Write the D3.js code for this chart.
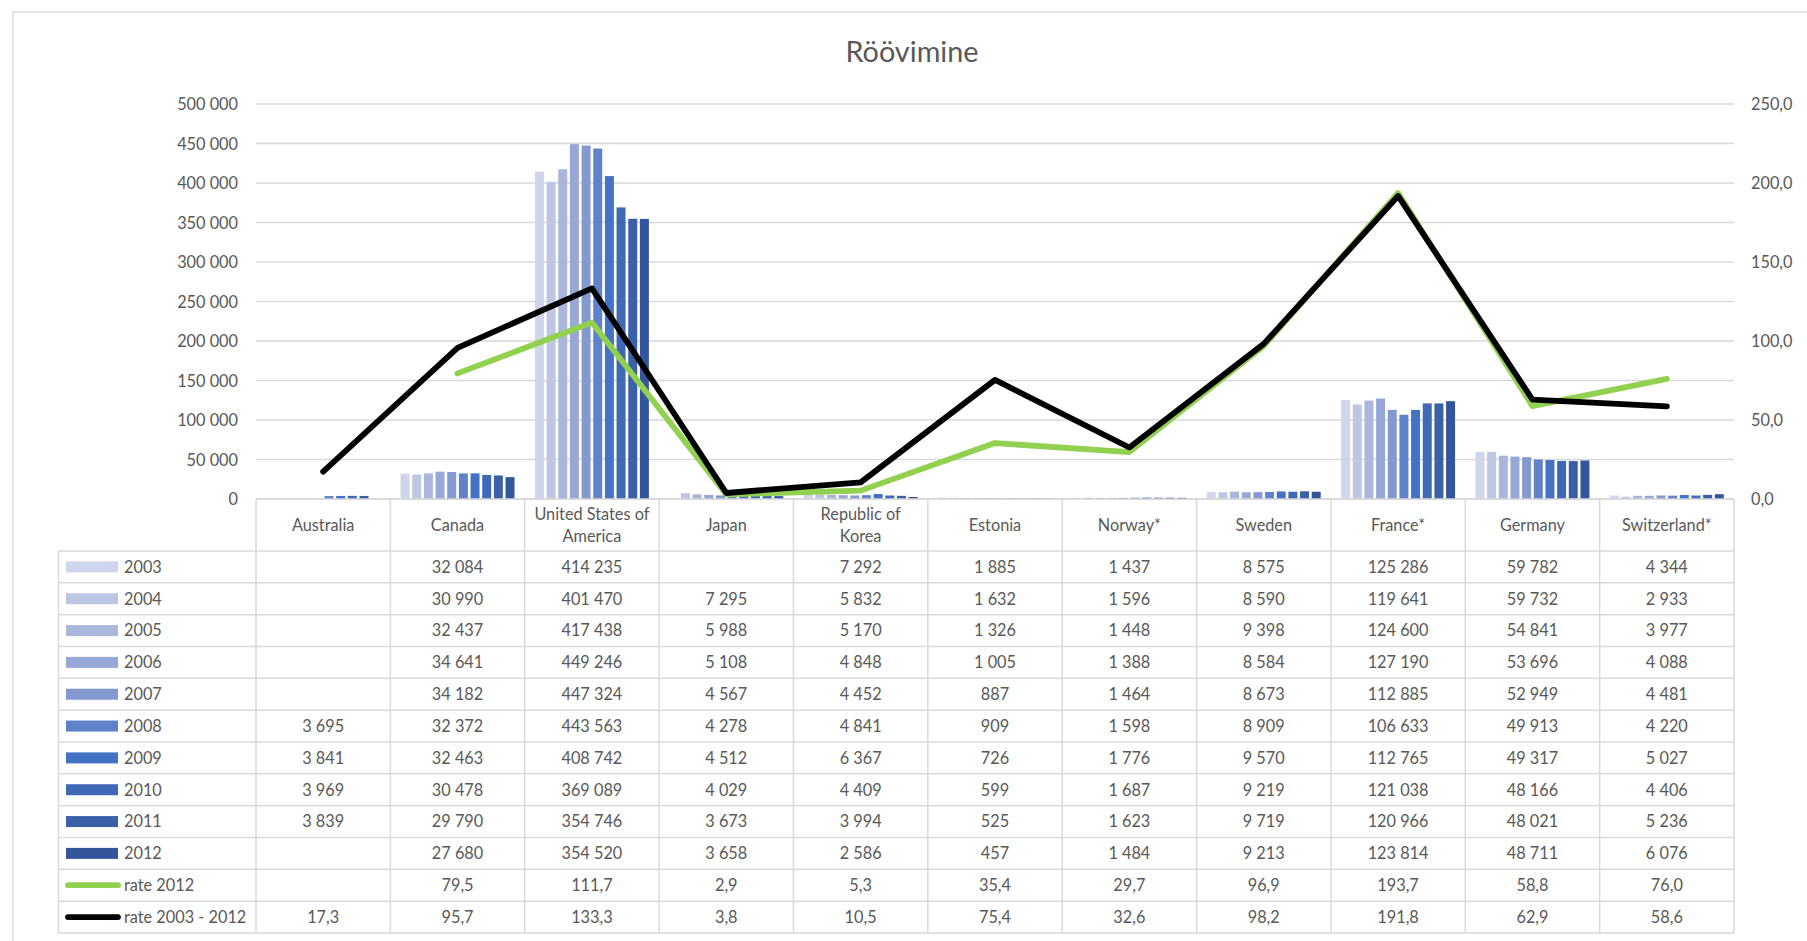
<!DOCTYPE html>
<html>
<head>
<meta charset="utf-8">
<script src="https://cdn.jsdelivr.net/npm/d3@7"></script>
<style>
  html, body { margin: 0; padding: 0; background: #fff; }
  svg { display: block; }
  text { font-family: Lato, "Open Sans", "Liberation Sans", sans-serif; fill: #595959; }
</style>
</head>
<body>
<svg id="chart" width="1807" height="941"></svg>
<script>
// ---------------- DATA ----------------
const title = "Röövimine";
const categories = ["Australia", "Canada", "United States of America", "Japan", "Republic of Korea",
  "Estonia", "Norway*", "Sweden", "France*", "Germany", "Switzerland*"];
const headerBreaks = {
  "United States of America": ["United States of", "America"],
  "Republic of Korea": ["Republic of", "Korea"]
};
const years = ["2003", "2004", "2005", "2006", "2007", "2008", "2009", "2010", "2011", "2012"];
const y2003 = [null, 32084, 414235, null, 7292, 1885, 1437, 8575, 125286, 59782, 4344];
const y2004 = [null, 30990, 401470, 7295, 5832, 1632, 1596, 8590, 119641, 59732, 2933];
const y2005 = [null, 32437, 417438, 5988, 5170, 1326, 1448, 9398, 124600, 54841, 3977];
const y2006 = [null, 34641, 449246, 5108, 4848, 1005, 1388, 8584, 127190, 53696, 4088];
const y2007 = [null, 34182, 447324, 4567, 4452, 887, 1464, 8673, 112885, 52949, 4481];
const y2008 = [3695, 32372, 443563, 4278, 4841, 909, 1598, 8909, 106633, 49913, 4220];
const y2009 = [3841, 32463, 408742, 4512, 6367, 726, 1776, 9570, 112765, 49317, 5027];
const y2010 = [3969, 30478, 369089, 4029, 4409, 599, 1687, 9219, 121038, 48166, 4406];
const y2011 = [3839, 29790, 354746, 3673, 3994, 525, 1623, 9719, 120966, 48021, 5236];
const y2012 = [null, 27680, 354520, 3658, 2586, 457, 1484, 9213, 123814, 48711, 6076];
const rate2012 = [null, 79.5, 111.7, 2.9, 5.3, 35.4, 29.7, 96.9, 193.7, 58.8, 76.0];
const rate2003to2012 = [17.3, 95.7, 133.3, 3.8, 10.5, 75.4, 32.6, 98.2, 191.8, 62.9, 58.6];
const leftTicks = [0, 50000, 100000, 150000, 200000, 250000, 300000, 350000, 400000, 450000, 500000];
const rightTicks = [0, 50, 100, 150, 200, 250];
const lineNames = ["rate 2012", "rate 2003 - 2012"];

const yearSeries = [y2003, y2004, y2005, y2006, y2007, y2008, y2009, y2010, y2011, y2012];
const rateSeries = [rate2012, rate2003to2012];

// ---------------- STYLE ----------------
const barColors = ["#CFD5EA", "#BDC6E3", "#AAB6DC", "#97A7D6", "#8399D0", "#5F82CB", "#4472C4", "#3F69B6", "#3A61A8", "#33559A"];
const lineColors = ["#92D050", "#000000"];
const gridColor = "#D9D9D9";
const fontSize = 16.3;

const plotLeft = 256, plotRight = 1734, plotTop = 104, plotBottom = 499;
const legendLeft = 58.5;
const headerBottom = 551;
const rowH = 31.83;

// ---------------- FORMATTERS ----------------
const loc = d3.formatLocale({ decimal: ",", thousands: "\u00a0", grouping: [3], currency: ["", ""] });
const fmtInt = loc.format(",d");
const fmtRate = loc.format(",.1f");

const svg = d3.select("#chart");

// outer chart border
svg.append("rect").attr("x", 13).attr("y", 12).attr("width", 1830).attr("height", 960)
  .attr("fill", "none").attr("stroke", gridColor).attr("stroke-width", 1.3);

// title
svg.append("text").attr("x", 912).attr("y", 62).attr("text-anchor", "middle")
  .attr("font-size", 28.8).text(title);

// scales
const x0 = d3.scaleBand().domain(categories).range([plotLeft, plotRight]).paddingInner(0).paddingOuter(0);
const x1 = d3.scaleBand().domain(years).range([0, x0.bandwidth()]).paddingInner(0.23).paddingOuter(0.875);
const yL = d3.scaleLinear().domain([0, 500000]).range([plotBottom, plotTop]);
const yR = d3.scaleLinear().domain([0, 250]).range([plotBottom, plotTop]);

// gridlines
svg.append("g").selectAll("line").data(leftTicks).join("line")
  .attr("x1", plotLeft).attr("x2", plotRight)
  .attr("y1", d => yL(d)).attr("y2", d => yL(d))
  .attr("stroke", gridColor).attr("stroke-width", 1.3);

// left axis labels (d3 axis, restyled)
const axL = svg.append("g").attr("transform", `translate(${plotLeft - 18},0)`)
  .call(d3.axisLeft(yL).tickValues(leftTicks).tickSize(0).tickPadding(0).tickFormat(d => fmtInt(d)));
axL.select(".domain").remove();
axL.selectAll("text").attr("font-size", fontSize).attr("font-family", null).attr("fill", "#595959").attr("dy", "0.36em");

const axR = svg.append("g").attr("transform", `translate(${plotRight + 17},0)`)
  .call(d3.axisRight(yR).tickValues(rightTicks).tickSize(0).tickPadding(0).tickFormat(d => fmtRate(d)));
axR.select(".domain").remove();
axR.selectAll("text").attr("font-size", fontSize).attr("font-family", null).attr("fill", "#595959").attr("dy", "0.36em");

// bars
const barG = svg.append("g");
yearSeries.forEach((series, yi) => {
  barG.append("g").selectAll("rect")
    .data(categories.map((c, i) => ({ c, v: series[i] })).filter(d => d.v != null))
    .join("rect")
    .attr("x", d => x0(d.c) + x1(years[yi]))
    .attr("width", x1.bandwidth())
    .attr("y", d => yL(d.v))
    .attr("height", d => plotBottom - yL(d.v))
    .attr("fill", barColors[yi]);
});

// lines
rateSeries.forEach((series, li) => {
  const line = d3.line()
    .defined(d => d.v != null)
    .x(d => x0(d.c) + x0.bandwidth() / 2)
    .y(d => yR(d.v));
  svg.append("path")
    .datum(categories.map((c, i) => ({ c, v: series[i] })))
    .attr("d", line)
    .attr("fill", "none")
    .attr("stroke", lineColors[li])
    .attr("stroke-width", 5.8)
    .attr("stroke-linejoin", "round")
    .attr("stroke-linecap", "round");
});

// ---------------- DATA TABLE ----------------
const tbl = svg.append("g");
const nRows = years.length + rateSeries.length;
const tableBottom = headerBottom + nRows * rowH;
const bw = x0.bandwidth();

// horizontal lines
tbl.append("line").attr("x1", plotLeft).attr("x2", plotRight).attr("y1", plotBottom).attr("y2", plotBottom)
  .attr("stroke", gridColor).attr("stroke-width", 1.5);
tbl.selectAll("line.h").data(d3.range(nRows + 1)).join("line").attr("class", "h")
  .attr("x1", legendLeft).attr("x2", plotRight)
  .attr("y1", i => headerBottom + i * rowH).attr("y2", i => headerBottom + i * rowH)
  .attr("stroke", gridColor).attr("stroke-width", 1.5);
// vertical lines
tbl.selectAll("line.v").data(d3.range(categories.length + 1)).join("line").attr("class", "v")
  .attr("x1", i => plotLeft + i * bw).attr("x2", i => plotLeft + i * bw)
  .attr("y1", plotBottom).attr("y2", tableBottom)
  .attr("stroke", gridColor).attr("stroke-width", 1.5);
tbl.append("line").attr("x1", legendLeft).attr("x2", legendLeft).attr("y1", headerBottom).attr("y2", tableBottom)
  .attr("stroke", gridColor).attr("stroke-width", 1.5);

// header labels
const headerMid = (plotBottom + headerBottom) / 2;
categories.forEach(c => {
  const lines = headerBreaks[c] || [c];
  const cx = x0(c) + bw / 2;
  lines.forEach((ln, k) => {
    const off = (k - (lines.length - 1) / 2) * 21.7;
    tbl.append("text").attr("x", cx).attr("y", headerMid + off + 5.9)
      .attr("text-anchor", "middle").attr("font-size", fontSize).text(ln);
  });
});

// rows
const rowLabels = years.concat(lineNames);
const rowSeries = yearSeries.concat(rateSeries);
rowLabels.forEach((lab, r) => {
  const cy = headerBottom + r * rowH + rowH / 2;
  // legend key
  if (r < years.length) {
    tbl.append("rect").attr("x", 66).attr("y", cy - 5.5).attr("width", 52).attr("height", 11)
      .attr("fill", barColors[r]);
  } else {
    tbl.append("line").attr("x1", 68).attr("x2", 118).attr("y1", cy).attr("y2", cy)
      .attr("stroke", lineColors[r - years.length]).attr("stroke-width", 5.8).attr("stroke-linecap", "round");
  }
  tbl.append("text").attr("x", 124).attr("y", cy + 5.9).attr("font-size", fontSize).text(lab);
  const series = rowSeries[r];
  const fmt = r < years.length ? fmtInt : fmtRate;
  categories.forEach((c, i) => {
    if (series[i] == null) return;
    tbl.append("text").attr("x", x0(c) + bw / 2).attr("y", cy + 5.9)
      .attr("text-anchor", "middle").attr("font-size", fontSize).text(fmt(series[i]));
  });
});
</script>
</body>
</html>
